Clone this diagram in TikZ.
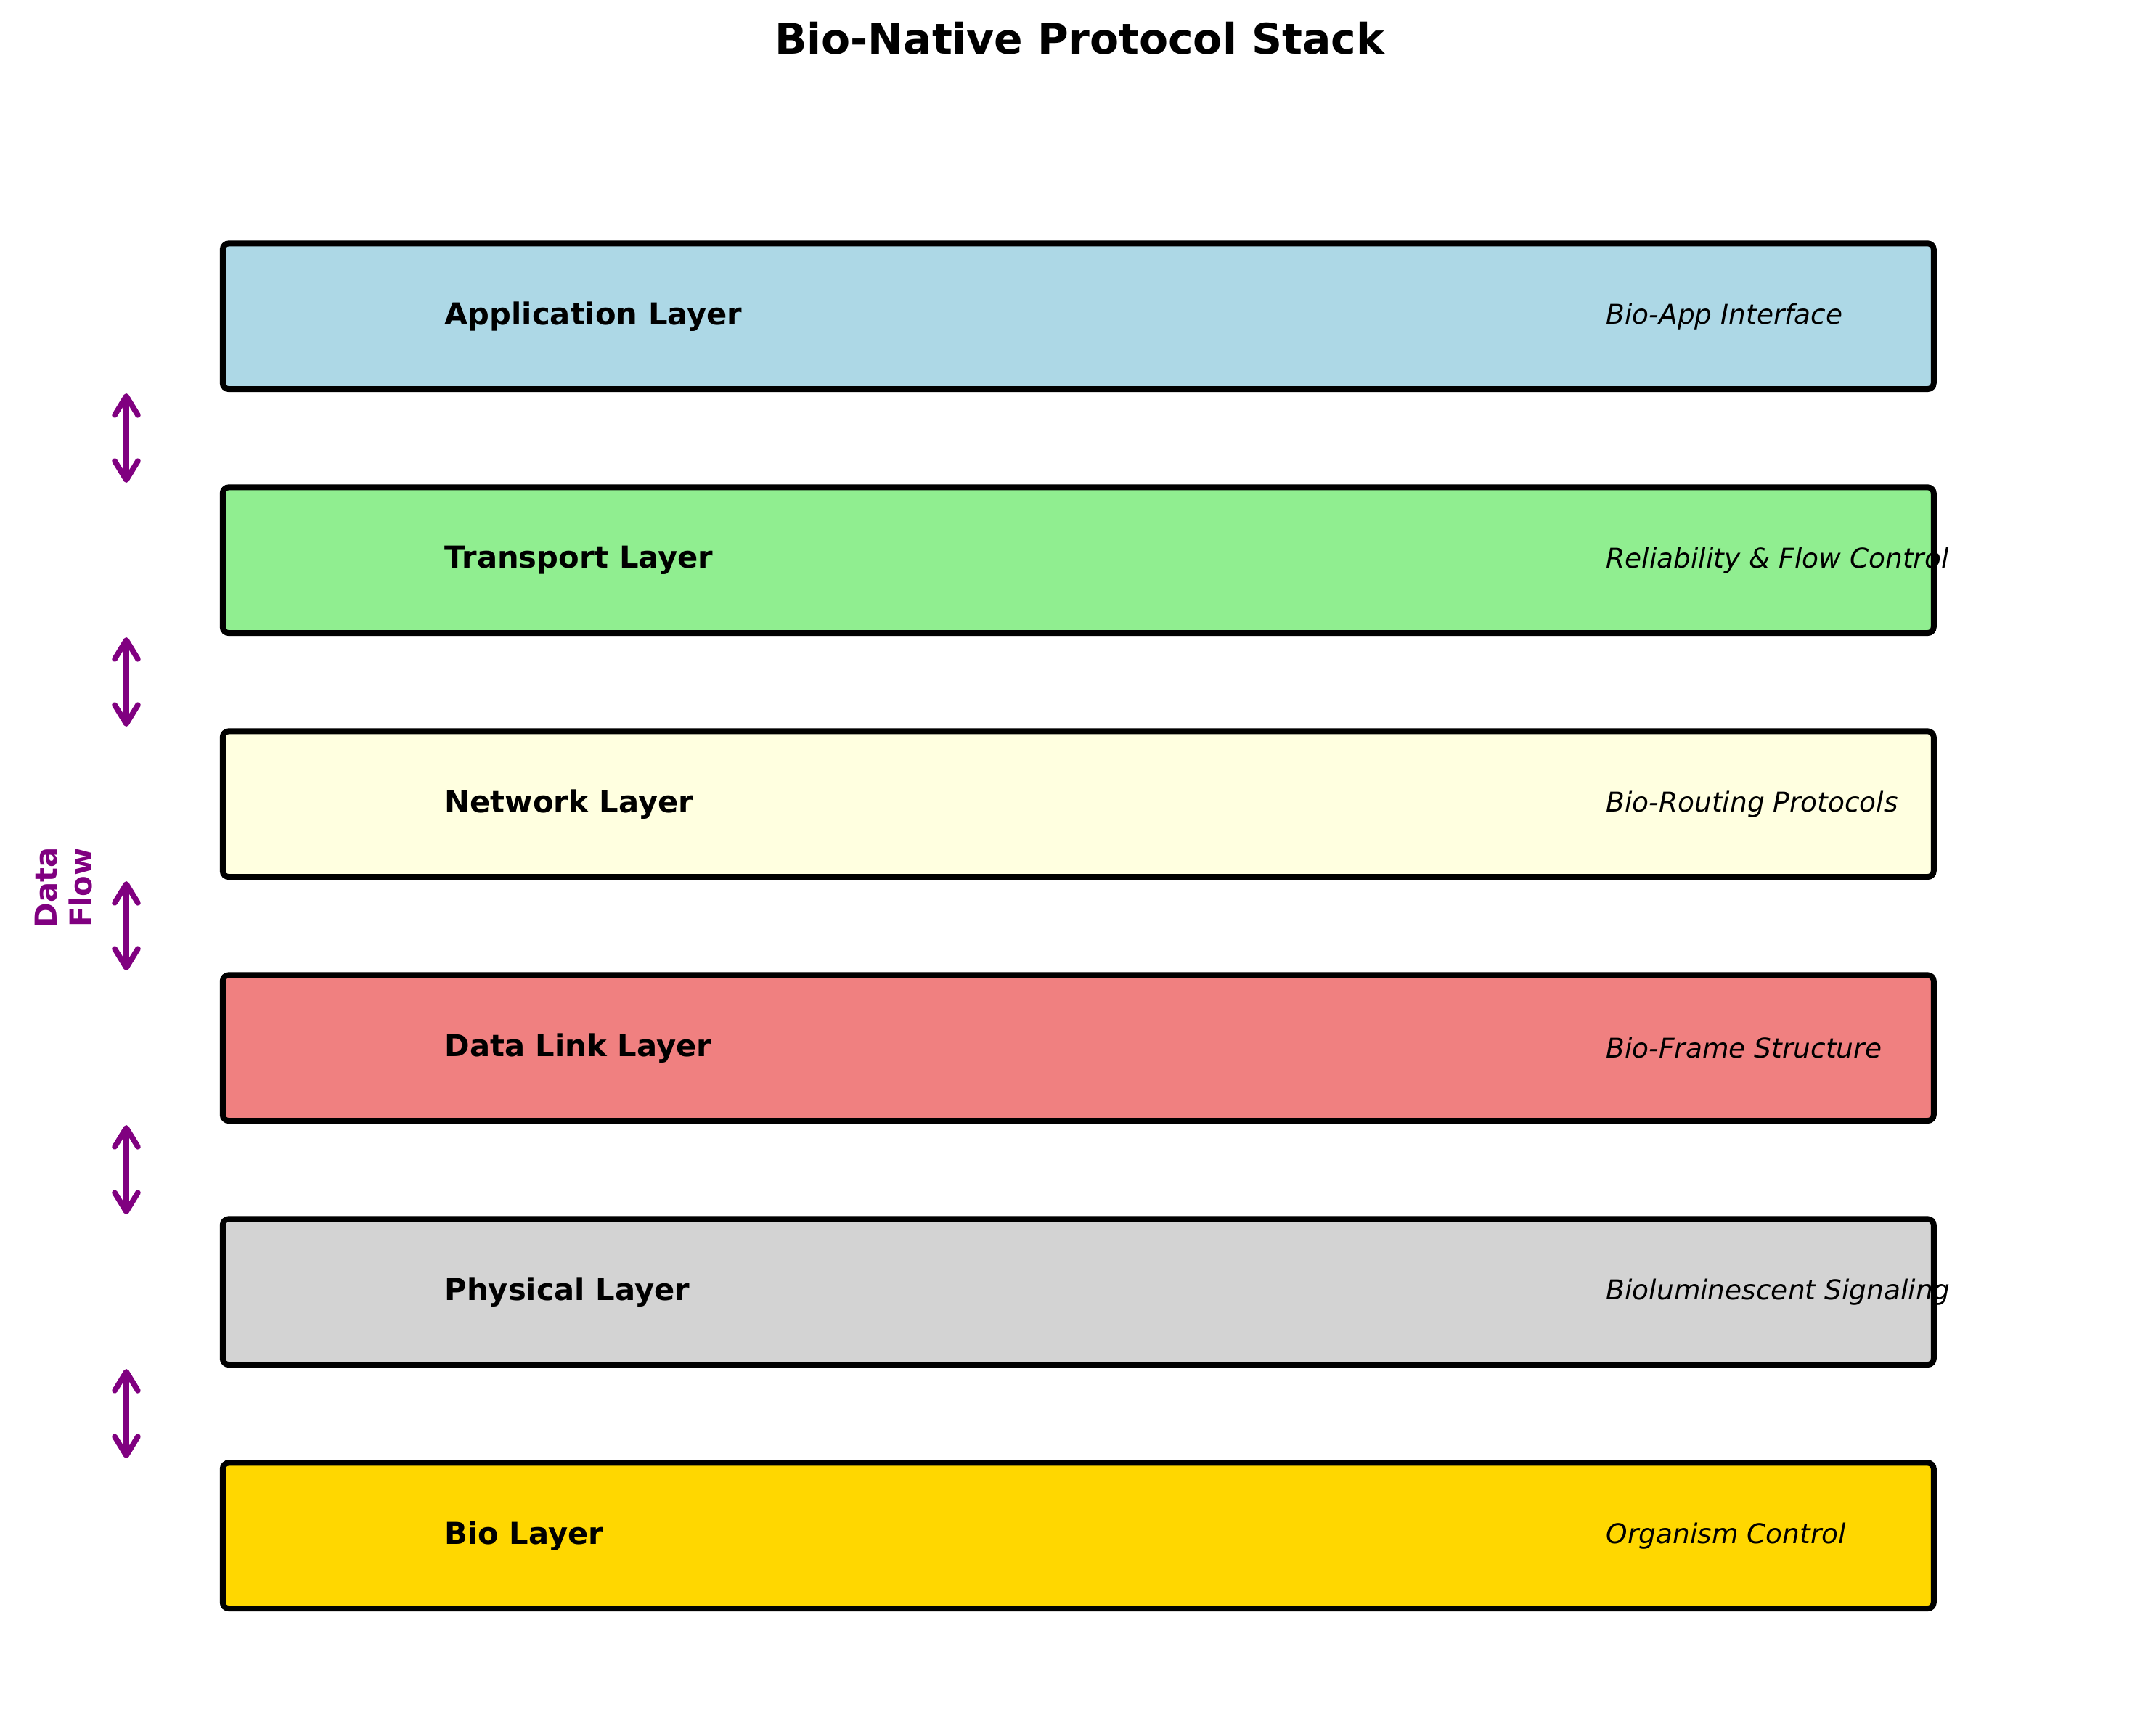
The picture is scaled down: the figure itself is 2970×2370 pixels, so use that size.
\documentclass[tikz,border=0pt]{standalone}
\usepackage{fontspec}
\setmainfont{DejaVu Sans}
\usetikzlibrary{arrows.meta}
\definecolor{cApp}{HTML}{ADD8E6}
\definecolor{cTra}{HTML}{90EE90}
\definecolor{cNet}{HTML}{FFFFE0}
\definecolor{cDat}{HTML}{F08080}
\definecolor{cPhy}{HTML}{D3D3D3}
\definecolor{cBio}{HTML}{FFD700}
\definecolor{flowpurple}{HTML}{800080}
\begin{document}
\begin{tikzpicture}[x=0.288pt,y=-0.288pt,
  layerbox/.style={draw=black, line width=2.3pt, rounded corners=2.4pt,
    minimum width=678.8pt, minimum height=57.8pt, inner sep=0pt},
  lbl/.style={anchor=west, font=\bfseries\fontsize{12}{14}\selectfont, inner sep=0pt},
  desc/.style={anchor=west, font=\itshape\fontsize{10.8}{13}\selectfont, inner sep=0pt},
  flow/.style={draw=flowpurple, line width=2.2pt, line cap=round,
    {Straight Barb[length=7.5pt,width=9.2pt,round]}-{Straight Barb[length=7.5pt,width=9.2pt,round]}}
]
\useasboundingbox (0,0) rectangle (2970,2370);

\node[font=\bfseries\fontsize{16.8}{20}\selectfont] (title) at (1487,53) {Bio-Native Protocol Stack};

\node[layerbox, fill=cApp] (box1) at (1485.3,435.7) {};
\node[layerbox, fill=cTra] (box2) at (1485.3,771.7) {};
\node[layerbox, fill=cNet] (box3) at (1485.3,1107.7) {};
\node[layerbox, fill=cDat] (box4) at (1485.3,1443.7) {};
\node[layerbox, fill=cPhy] (box5) at (1485.3,1779.7) {};
\node[layerbox, fill=cBio] (box6) at (1485.3,2115.7) {};

\node[lbl] (lab1) at (612,435.7) {Application Layer};
\node[lbl] (lab2) at (612,771.7) {Transport Layer};
\node[lbl] (lab3) at (612,1107.7) {Network Layer};
\node[lbl] (lab4) at (612,1443.7) {Data Link Layer};
\node[lbl] (lab5) at (612,1779.7) {Physical Layer};
\node[lbl] (lab6) at (612,2115.7) {Bio Layer};

\node[desc] (desc1) at (2212,435.7) {Bio-App Interface};
\node[desc] (desc2) at (2212,771.7) {Reliability \& Flow Control};
\node[desc] (desc3) at (2212,1107.7) {Bio-Routing Protocols};
\node[desc] (desc4) at (2212,1443.7) {Bio-Frame Structure};
\node[desc] (desc5) at (2212,1779.7) {Bioluminescent Signaling};
\node[desc] (desc6) at (2212,2115.7) {Organism Control};

\foreach \k in {0,...,4} {
  \coordinate (at\k) at (174,{542+336*\k});
  \coordinate (ab\k) at (174,{665+336*\k});
  \draw[flow] (at\k) -- (ab\k);
}

\node[rotate=90, align=center, text=flowpurple, inner sep=0pt,
  font=\bfseries\fontsize{12}{13.8}\selectfont] (flowlbl) at (88,1223) {Data\\Flow};
\end{tikzpicture}
\end{document}
